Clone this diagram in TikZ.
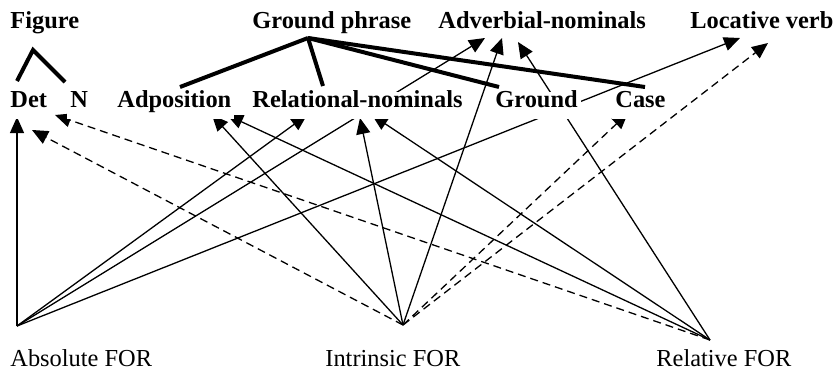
\documentclass[tikz,border=0pt]{standalone}
\usepackage{fontspec}
\setmainfont{Liberation Serif}
\usetikzlibrary{arrows.meta,positioning,calc,backgrounds}

\begin{document}
\begin{tikzpicture}[x=0.5pt,y=-0.5pt,
  every node/.style={font=\fontsize{12.2}{14}\selectfont, inner sep=0pt, anchor=base west},
  toplbl/.style={font=\fontsize{12.2}{14}\selectfont\bfseries, fill=white, inner xsep=1.5pt, text height=7.5pt, text depth=4pt},
  midlbl/.style={font=\fontsize{12.2}{14}\selectfont\bfseries, fill=white, inner xsep=1.5pt, text height=7.5pt, text depth=6pt},
  arr/.style={-{Triangle[length=8pt,width=7pt]}, line width=0.65pt},
  dsh/.style={arr, dash pattern=on 4pt off 2.5pt},
  tree/.style={line width=2pt}]
\useasboundingbox (0,0) rectangle (836,370);
% labels
\node[toplbl] (fig) at (7,28) {Figure};
\node[toplbl] (gp) at (249,28) {Ground phrase};
\node[toplbl] (adv) at (435,28) {Adverbial-nominals};
\node[toplbl] (loc) at (687,28) {Locative verb};
\node[midlbl] (det) at (7,107) {Det};
\node[midlbl] (n) at (67,107) {N};
\node[midlbl] (adp) at (114,107) {Adposition};
\node[midlbl] (reln) at (249,107) {Relational-nominals};
\node[midlbl] (gnd) at (492,107) {Ground};
\node[midlbl] (cas) at (612,107) {Case};
\node (abs) at (10,366) {Absolute FOR};
\node (int) at (325,366) {Intrinsic FOR};
\node (rel) at (656,366) {Relative FOR};
\coordinate (absP) at (17,326);
\coordinate (intP) at (403,325);
\coordinate (relP) at (710,340);
\begin{scope}[on background layer]
% trees
\draw[tree] ($(det.base west)+(10,-26)$) -- ($(fig.base west)+(26,22)$) -- ($(n.base west)+(-2,-25)$);
\draw[tree] ($(gp.base west)+(59,10)$) -- ($(adp.base west)+(66,-20)$);
\draw[tree] ($(gp.base west)+(59,10)$) -- ($(reln.base west)+(74,-21)$);
\draw[tree] ($(gp.base west)+(59,10)$) -- ($(gnd.base west)+(7,-20)$);
\draw[tree] ($(gp.base west)+(59,10)$) -- ($(cas.base west)+(33,-20)$);
% absolute
\draw[arr] (absP) -- ($(det.base west)+(10,10)$);
\draw[arr] (absP) -- ($(reln.base west)+(58,8)$);
\draw[arr] (absP) -- ($(adv.base west)+(50,10)$);
\draw[arr] (absP) -- ($(loc.base west)+(53,10)$);
% intrinsic
\draw[dsh] (intP) -- ($(det.base west)+(25,23)$);
\draw[arr] (intP) -- ($(adp.base west)+(98,8)$);
\draw[arr] (intP) -- ($(reln.base west)+(111,11)$);
\draw[arr] (intP) -- ($(adv.base west)+(67,10)$);
\draw[dsh] (intP) -- ($(cas.base west)+(16,6)$);
\draw[dsh] (intP) -- ($(loc.base west)+(81,15)$);
% relative
\draw[dsh] (relP) -- ($(n.base west)+(-12,8)$);
\draw[arr] (relP) -- ($(adp.base west)+(113,8)$);
\draw[arr] (relP) -- ($(reln.base west)+(123,8)$);
\draw[arr] (relP) -- ($(adv.base west)+(83,14)$);
\end{scope}
\end{tikzpicture}
\end{document}
